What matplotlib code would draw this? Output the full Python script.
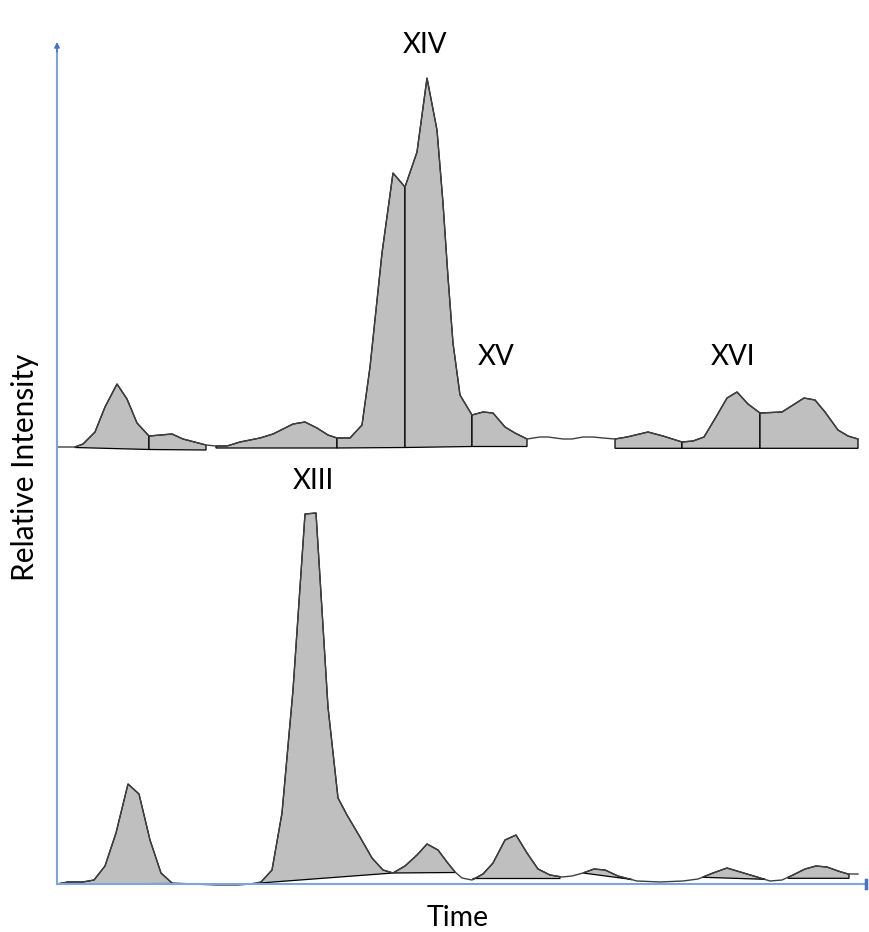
import numpy as np
import matplotlib
matplotlib.use("Agg")
import matplotlib.pyplot as plt
from matplotlib.patches import Polygon

# ---- chromatogram data (time in arbitrary units, intensity in arbitrary units) ----
upper_time = [0, 18, 26, 38, 48, 60, 70, 80, 92, 115, 126, 149, 159, 170, 183, 203,
              216, 236, 248, 260, 271, 280, 293, 305, 313, 325, 336, 348, 360, 370,
              380, 386, 391, 396, 403, 415, 426, 436, 448, 458, 470, 483, 491, 506,
              515, 526, 536, 546, 558, 570, 591, 606, 625, 636, 647, 659, 670, 680,
              691, 703, 725, 736, 747, 758, 768, 781, 791, 801]
upper_intensity = [1, 1, 4, 16, 41, 64, 49, 25, 12, 14, 9, 3, 2, 2, 6, 10,
                   14, 24, 26, 20, 13, 10, 10, 23, 81, 195, 275, 261, 296, 370,
                   318, 245, 171, 105, 53, 33, 36, 35, 21, 15, 9, 11, 11, 9,
                   9, 11, 11, 10, 9, 11, 16, 12, 6, 7, 11, 31, 50, 56,
                   44, 35, 36, 43, 50, 48, 36, 18, 12, 9]

lower_time = [0, 11, 26, 37, 48, 59, 71, 82, 93, 104, 115, 136, 160, 181, 193, 204,
              215, 225, 236, 248, 259, 271, 281, 290, 303, 315, 326, 336, 348, 360,
              370, 381, 390, 398, 405, 415, 426, 436, 448, 459, 470, 481, 493, 505,
              515, 526, 537, 548, 561, 580, 603, 626, 641, 656, 670, 680, 700, 713,
              725, 736, 748, 759, 770, 781, 791, 801]
lower_intensity = [0, 2, 2, 4, 18, 51, 100, 90, 44, 11, 1, 0, -1, -1, 0, 2,
                   14, 71, 194, 370, 371, 177, 86, 69, 47, 26, 14, 11, 18, 29,
                   40, 34, 22, 12, 6, 4, 10, 21, 44, 49, 31, 15, 9, 7,
                   8, 11, 15, 14, 8, 3, 2, 3, 5, 11, 16, 13, 7, 3,
                   4, 9, 15, 18, 17, 13, 10, 10]

# integration windows: (start, end, baseline at start, baseline at end)
upper_windows = [(18, 92, 0.5, -1.5), (92, 149, -1.5, -2.0), (159, 280, 0, 0),
                 (280, 348, 0, 0.5), (348, 415, 0.5, 1.5), (415, 470, 1.5, 1.5),
                 (558, 625, -0.3, -0.3), (625, 703, -0.3, -0.3), (703, 801, -0.3, -0.3)]
lower_windows = [(0, 115, 0, 0.5), (203, 336, 1, 11), (336, 398, 11, 11.5),
                 (416, 503, 5.5, 5.5), (526, 575, 11, 4.5), (646, 708, 6.7, 4.7),
                 (731, 792, 5.7, 5.7)]

peak_labels = ["XIV", "XV", "XVI", "XIII"]
label_time = [368, 439, 676, 256]
label_height = [839, 527, 527, 403]

UPPER_OFFSET = 436
AXIS_TOP = 836
AXIS_END = 809

FILL = "#BFBFBF"
TRACE = "#404040"
AXIS_BLUE = "#7DA3E2"
FONT = ["Lato", "DejaVu Sans"]

fig = plt.figure(figsize=(8.69, 9.32), dpi=100)
ax = fig.add_axes([0, 0, 1, 1])
ax.set_xlim(-57, 812)
ax.set_ylim(-48, 884)
ax.axis("off")


def draw_trace(t, v, windows, offset):
    t = np.asarray(t, float)
    v = np.asarray(v, float)
    for t0, t1, b0, b1 in windows:
        inner = t[(t > t0) & (t < t1)]
        ts = np.concatenate([[t0], inner, [t1]])
        vs = np.interp(ts, t, v)
        pts = list(zip(ts, vs + offset)) + [(t1, b1 + offset), (t0, b0 + offset)]
        ax.add_patch(Polygon(pts, closed=True, facecolor=FILL, edgecolor="black",
                             linewidth=0.9, zorder=2))
    ax.plot(t, v + offset, color=TRACE, linewidth=1.0, zorder=3)


draw_trace(upper_time, upper_intensity, upper_windows, UPPER_OFFSET)
draw_trace(lower_time, lower_intensity, lower_windows, 0)

# axes with arrow heads
ax.plot([0, 0], [0, AXIS_TOP], color=AXIS_BLUE, linewidth=1.5, zorder=4)
ax.plot([0, AXIS_END], [0, 0], color=AXIS_BLUE, linewidth=1.5, zorder=4)
ax.annotate("", xy=(0, AXIS_TOP + 6), xytext=(0, AXIS_TOP - 4),
            arrowprops=dict(arrowstyle="-|>", color="#4472C4", lw=1.0,
                            mutation_scale=8, shrinkA=0, shrinkB=0), zorder=5)
ax.plot([AXIS_END, AXIS_END], [-4, 4], color="#4472C4", linewidth=2.5, zorder=5)

for name, lt, lh in zip(peak_labels, label_time, label_height):
    ax.text(lt, lh, name, ha="center", va="center", fontsize=20, family=FONT,
            color="black", zorder=6)

ax.text(401, -34, "Time", ha="center", va="center", fontsize=20.5, family=FONT)
ax.text(-32, 417, "Relative Intensity", ha="center", va="center", rotation=90,
        fontsize=21.5, family=FONT)

fig.savefig("out.png", dpi=100)
